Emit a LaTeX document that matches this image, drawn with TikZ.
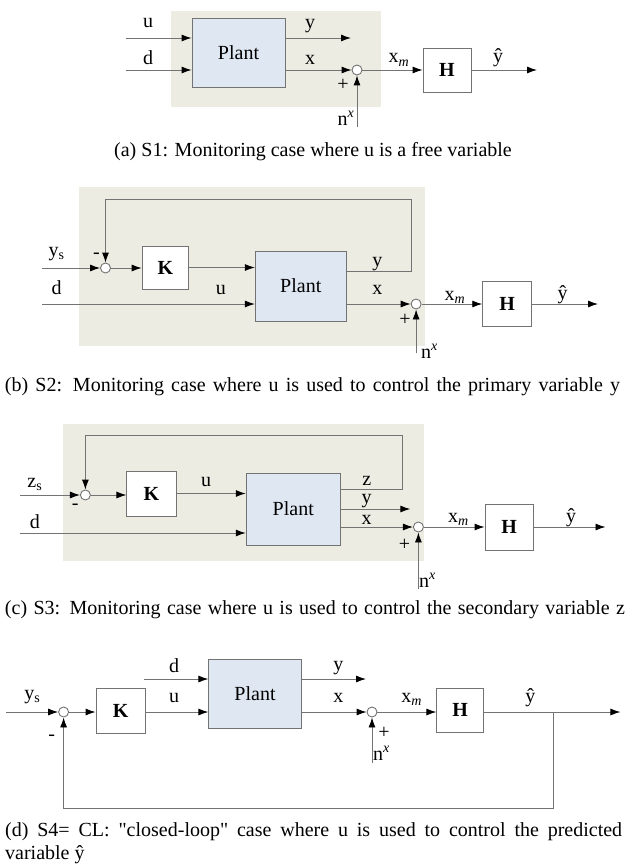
\documentclass[tikz,border=0pt]{standalone}
\usepackage{fontspec}
\setmainfont{Liberation Serif}
\newfontfamily\qtfont{Liberation Serif}[Ligatures=ResetAll]
\usetikzlibrary{arrows.meta}
\definecolor{bgc}{RGB}{236,236,226}
\definecolor{plantc}{RGB}{223,231,243}
\definecolor{linec}{RGB}{115,115,115}
\begin{document}
\begin{tikzpicture}[x=1pt,y=-1pt,
  every node/.style={font=\fontsize{20}{23}\selectfont, inner sep=0pt},
  ln/.style={draw=linec, line width=0.9pt},
  arr/.style={ln, -{Latex[length=10pt,width=7pt,color=black]}},
  blk/.style={draw=linec, line width=0.9pt, fill=white},
  plantbox/.style={blk, fill=plantc},
  sumc/.style={circle, draw=linec, line width=0.9pt, fill=white, minimum size=10pt},
  lbl/.style={anchor=base},
  sgn/.style={anchor=center}]
\useasboundingbox (0,0) rectangle (627,864);

% ---------------- (a) ----------------
\fill[bgc] (171,11) rectangle (381,107);
\node[plantbox, minimum width=93pt, minimum height=69pt] (P1) at (238.5,52.5) {Plant};
\node[sumc] (S1) at (357,70) {};
\node[blk, minimum width=48pt, minimum height=44pt] (H1) at (447,70) {\textbf{H}};
\coordinate (ua) at (126,38);
\coordinate (da) at (126,70);
\coordinate (ya) at (351,38);
\coordinate (na) at (357,127);
\coordinate (oa) at (537,70);
\draw[arr] (ua) -- (ua -| P1.west);
\draw[arr] (da) -- (da -| P1.west);
\draw[arr] (ya -| P1.east) -- (ya);
\draw[arr] (S1 -| P1.east) -- (S1.west);
\draw[arr] (na) -- (S1.south);
\draw[arr] (S1.east) -- (H1.west);
\draw[arr] (H1.east) -- (oa);
\node[lbl] (tua) at (148,28) {u};
\node[lbl] (tda) at (148,65) {d};
\node[lbl] (tya) at (310,29) {y};
\node[lbl] (txa) at (310,65) {x};
\node[lbl] (txma) at (399,63) {x\textsubscript{\textit{m}}};
\node[lbl] (tyha) at (498,63) {ŷ};
\node[lbl] (tna) at (346,125) {n\textsuperscript{\textit{x}}};
\node[sgn] (pa) at (343,85) {+};
\node[lbl] (capa) at (313,157) {(a) S1: Monitoring case where u is a free variable};

% ---------------- (b) ----------------
\fill[bgc] (79,187) rectangle (425,346);
\node[sumc] (S2a) at (105.5,268) {};
\node[blk, minimum width=46.6pt, minimum height=43pt] (K2) at (165.4,267.5) {\textbf{K}};
\node[plantbox, minimum width=91pt, minimum height=70pt] (P2) at (300.8,286) {Plant};
\node[sumc] (S2b) at (416.1,304) {};
\node[blk, minimum width=48.8pt, minimum height=45pt] (H2) at (507.1,304) {\textbf{H}};
\coordinate (ysb) at (42,268);
\coordinate (db) at (42,304);
\coordinate (yb) at (411.8,271);
\coordinate (fbb) at (411.8,199);
\coordinate (nb) at (416.1,353);
\coordinate (ob) at (598,304);
\draw[arr] (ysb) -- (S2a.west);
\draw[arr] (S2a.east) -- (S2a.east -| K2.west);
\draw[arr] (K2.east) -- (K2.east -| P2.west);
\draw[arr] (db) -- (db -| P2.west);
\draw[ln] (yb -| P2.east) -- (yb) -- (fbb);
\draw[arr] (fbb) -| (S2a.north);
\draw[arr] (S2b -| P2.east) -- (S2b.west);
\draw[arr] (nb) -- (S2b.south);
\draw[arr] (S2b.east) -- (H2.west);
\draw[arr] (H2.east) -- (ob);
\node[lbl] (tysb) at (56.5,256) {y\textsubscript{s}};
\node[sgn] (mb) at (96.5,256) {-};
\node[lbl] (tdb) at (56.5,294) {d};
\node[lbl] (tub) at (220.8,294) {u};
\node[lbl] (tyb) at (377.3,266) {y};
\node[lbl] (txb) at (377.3,294) {x};
\node[lbl] (txmb) at (455,300) {x\textsubscript{\textit{m}}};
\node[lbl] (tyhb) at (562.6,299) {ŷ};
\node[lbl] (tnb) at (429.4,358) {n\textsuperscript{\textit{x}}};
\node[sgn] (pb) at (405,320) {+};
\node[lbl] (capb) at (312.5,391) {\makebox[615pt][s]{(b) S2: Monitoring case where u is used to control the primary variable y}};

% ---------------- (c) ----------------
\fill[bgc] (62.5,424) rectangle (424.1,561);
\node[sumc] (S3a) at (85.4,495) {};
\node[blk, minimum width=49.3pt, minimum height=45pt] (K3) at (151.5,493.5) {\textbf{K}};
\node[plantbox, minimum width=94.2pt, minimum height=72pt] (P3) at (293.3,509) {Plant};
\node[sumc] (S3b) at (418.4,527) {};
\node[blk, minimum width=48.2pt, minimum height=46pt] (H3) at (509.1,527) {\textbf{H}};
\coordinate (zsc) at (20,495);
\coordinate (dc) at (20,533);
\coordinate (zc) at (402.3,489);
\coordinate (fbc) at (402.3,435);
\coordinate (yc) at (410.3,509);
\coordinate (nc) at (418.4,589);
\coordinate (oc) at (605.5,527);
\draw[arr] (zsc) -- (S3a.west);
\draw[arr] (S3a.east) -- (S3a.east -| K3.west);
\draw[arr] (K3.east) -- (K3.east -| P3.west);
\draw[arr] (dc) -- (dc -| P3.west);
\draw[ln] (zc -| P3.east) -- (zc) -- (fbc);
\draw[arr] (fbc) -| (S3a.north);
\draw[arr] (yc -| P3.east) -- (yc);
\draw[arr] (S3b -| P3.east) -- (S3b.west);
\draw[arr] (nc) -- (S3b.south);
\draw[arr] (S3b.east) -- (H3.west);
\draw[arr] (H3.east) -- (oc);
\node[lbl] (tzsc) at (34.9,487) {z\textsubscript{s}};
\node[sgn] (mc) at (75.1,507) {-};
\node[lbl] (tdc) at (34.9,528) {d};
\node[lbl] (tuc) at (206,486) {u};
\node[lbl] (tzc) at (366.7,485) {z};
\node[lbl] (tyc) at (366.7,503) {y};
\node[lbl] (txc) at (366.7,524) {x};
\node[lbl] (txmc) at (458.5,522) {x\textsubscript{\textit{m}}};
\node[lbl] (tyhc) at (571,522) {ŷ};
\node[lbl] (tnc) at (427.5,587) {n\textsuperscript{\textit{x}}};
\node[sgn] (pc) at (404.6,545) {+};
\node[lbl] (capc) at (315,614) {\makebox[620pt][s]{(c) S3: Monitoring case where u is used to control the secondary variable z}};

% ---------------- (d) ----------------
\node[sumc] (S4a) at (63.6,712) {};
\node[blk, minimum width=49.2pt, minimum height=45pt] (K4) at (120.6,710.5) {\textbf{K}};
\node[plantbox, minimum width=92.4pt, minimum height=69pt] (P4) at (255,693.5) {Plant};
\node[sumc] (S4b) at (372,712) {};
\node[blk, minimum width=46.8pt, minimum height=44pt] (H4) at (460.2,710) {\textbf{H}};
\coordinate (ysd) at (6,712);
\coordinate (dd) at (144,679);
\coordinate (yd) at (366,679);
\coordinate (nd) at (372,763);
\coordinate (od) at (620.4,712);
\coordinate (br) at (553.2,712);
\coordinate (bd) at (553.2,808);
\draw[arr] (ysd) -- (S4a.west);
\draw[arr] (S4a.east) -- (S4a.east -| K4.west);
\draw[arr] (K4.east |- S4a) -- (S4a -| P4.west);
\draw[arr] (dd) -- (dd -| P4.west);
\draw[arr] (yd -| P4.east) -- (yd);
\draw[arr] (S4b -| P4.east) -- (S4b.west);
\draw[arr] (nd) -- (S4b.south);
\draw[arr] (S4b.east) -- (S4b.east -| H4.west);
\draw[arr] (S4b -| H4.east) -- (od);
\draw[arr] (br) -- (bd) -| (S4a.south);
\node[lbl] (tysd) at (32.4,699) {y\textsubscript{s}};
\node[sgn] (md) at (51.6,738) {-};
\node[lbl] (tdd) at (174,672) {d};
\node[lbl] (tud) at (174,702) {u};
\node[lbl] (tyd) at (338.4,670) {y};
\node[lbl] (txd) at (338.4,702) {x};
\node[lbl] (txmd) at (411.6,702) {x\textsubscript{\textit{m}}};
\node[lbl] (tyhd) at (530.4,702) {ŷ};
\node[lbl] (tnd) at (381.6,760) {n\textsuperscript{\textit{x}}};
\node[sgn] (pd) at (384,733) {+};
\node[anchor=base west] (capd1) at (5,836) {\makebox[617pt][s]{(d) S4= CL: {\qtfont"}closed-loop{\qtfont"} case where u is used to control the predicted}};
\node[anchor=base west] (capd2) at (5,859) {variable ŷ};
\end{tikzpicture}
\end{document}
